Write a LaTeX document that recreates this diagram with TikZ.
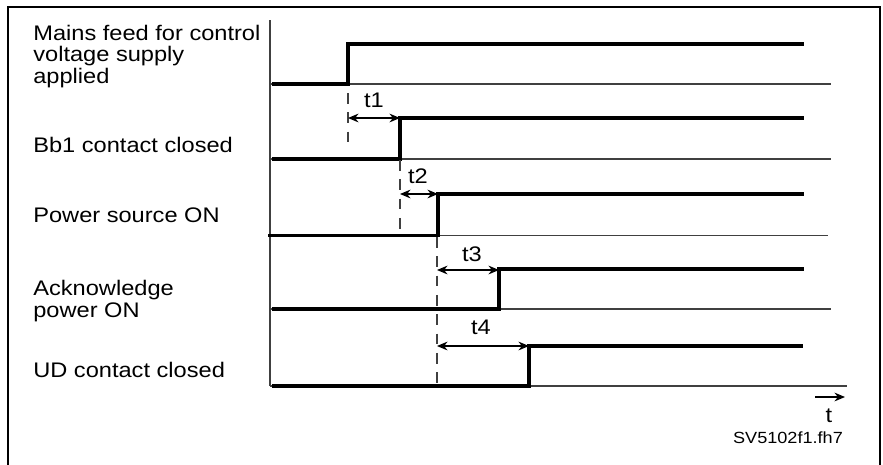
\documentclass[tikz,border=0pt]{standalone}
\usepackage{fontspec}
\setmainfont{Liberation Sans}[FakeStretch=1.12]
\usetikzlibrary{arrows.meta}

\begin{document}
\begin{tikzpicture}[
      x=0.02cm, y=-0.02cm,
      sig/.style={line width=2.2pt},
      base/.style={line width=0.8pt, black!75},
      guide/.style={line width=0.7pt, black!75, dash pattern=on 6pt off 5pt},
      span/.style={<->, line width=0.7pt},
      lbl/.style={anchor=base west, align=left, inner sep=0pt, font=\fontsize{12}{12}\selectfont},
      tlbl/.style={anchor=base, inner sep=0pt, font=\fontsize{12}{12}\selectfont},
      >={Stealth[length=6pt, width=5pt]}
    ]
    \useasboundingbox (0,0) rectangle (883,464);

    % ---- frame ----
    \draw[line width=1.5pt] (8,470) -- (8,7) -- (880,7) -- (880,470);

    % ---- time axis ----
    \draw[base] (270,20) -- (270,386);

    % ---- rising edges ----
    \def\ea{348}
    \def\eb{400}
    \def\ec{438}
    \def\ed{499}
    \def\ee{529}

    % ================= signal labels (base = last line) =================
    \node[lbl] (mains) at (33,83) {Mains feed for control\\voltage supply\\applied};
    \node[lbl] (bb1) at (33,152) {Bb1 contact closed};
    \node[lbl] (power) at (33,222) {Power source ON};
    \node[lbl] (ack) at (33,317) {Acknowledge\\power ON};
    \node[lbl] (ud) at (33,377) {UD contact closed};

    % ================= baselines =================
    \draw[base] (270,84) -- (831,84);
    \draw[base] (270,159) -- (831,159);
    \draw[base] (270,235.5) -- (828,235.5);
    \draw[base] (270,309) -- (831,309);
    \draw[base] (270,386) -- (847,386);

    % ================= signals =================
    \draw[sig] (272,84) -- (\ea,84) -- (\ea,44) -- (804,44);
    \draw[sig] (272,159) -- (\eb,159) -- (\eb,118) -- (804,118);
    \draw[sig] (268,235.5) -- (\ec,235.5) -- (\ec,194) -- (804,194);
    \draw[sig] (272,309) -- (\ed,309) -- (\ed,269) -- (804,269);
    \draw[sig] (272,386) -- (\ee,386) -- (\ee,346) -- (803,346);

    % ================= dashed reference lines =================
    \draw[guide] (\ea,93) -- (\ea,147);
    \draw[guide] (\eb,160) -- (\eb,232);
    \draw[guide] (437,237) -- (437,385);

    % ================= delay arrows =================
    \coordinate (t1a) at (\ea,118);
    \coordinate (t1b) at (\eb,118);
    \coordinate (t2a) at (\eb,194);
    \coordinate (t2b) at (\ec,194);
    \coordinate (t3a) at (437,270);
    \coordinate (t3b) at (\ed,270);
    \coordinate (t4a) at (437,346);
    \coordinate (t4b) at (\ee,346);

    \draw[span] (t1a) -- (t1b);
    \draw[span] (t2a) -- (t2b);
    \draw[span] (t3a) -- (t3b);
    \draw[span] (t4a) -- (t4b);

    \node[tlbl] (t1) at (374,107) {t1};
    \node[tlbl] (t2) at (418,183) {t2};
    \node[tlbl] (t3) at (472,261) {t3};
    \node[tlbl] (t4) at (481,334) {t4};

    % ================= time arrow + figure code =================
    \coordinate (ta) at (815,397);
    \coordinate (tb) at (845,397);
    \draw[->, line width=0.7pt] (ta) -- (tb);
    \node[tlbl] (t) at (829,422) {t};

    \node[anchor=base, inner sep=0pt, font=\fontsize{9.2}{10}\selectfont] (code) at (788,443) {SV5102f1.fh7};

    \end{tikzpicture}
\end{document}
